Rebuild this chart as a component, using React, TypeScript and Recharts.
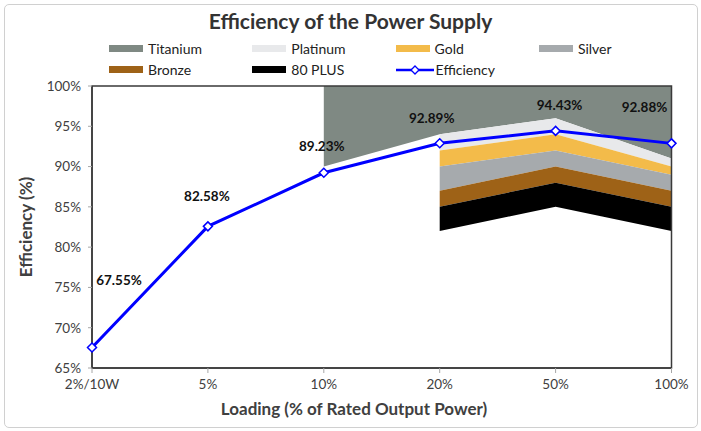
import {
  ComposedChart,
  Area,
  Line,
  XAxis,
  YAxis,
  LabelList,
  ReferenceArea,
} from "recharts";

// loading points on the x axis
const categories = ["2%/10W", "5%", "10%", "20%", "50%", "100%"];

// measured efficiency (%)
const efficiency = [67.55, 82.58, 89.23, 92.89, 94.43, 92.88];

// 80 PLUS minimum levels (%), null = not defined at that load
const titanium = [null, null, 90, 94, 96, 91];
const platinum = [null, null, null, 92, 94, 90];
const gold = [null, null, null, 90, 92, 89];
const silver = [null, null, null, 87, 90, 87];
const bronze = [null, null, null, 85, 88, 85];
const plus80 = [null, null, null, 82, 85, 82];

const yTicks = [65, 70, 75, 80, 85, 90, 95, 100];

const bandNames = ["Titanium", "Platinum", "Gold", "Silver", "Bronze", "80 PLUS"];
const bandColors = ["#7f8983", "#e8e9eb", "#f3bb4a", "#a6aaad", "#9e6217", "#000000"];

const FONT = "Lato, 'Open Sans', sans-serif";
const BLUE = "#0000ff";

const band = (lo: (number | null)[], hi: (number | null)[], i: number) =>
  lo[i] == null || hi[i] == null ? null : [lo[i], hi[i]];

const top = categories.map(() => 100);

const chartData = categories.map((name, i) => ({
  name,
  efficiency: efficiency[i],
  Titanium: band(titanium, top, i),
  Platinum: band(platinum, titanium, i),
  Gold: band(gold, platinum, i),
  Silver: band(silver, gold, i),
  Bronze: band(bronze, silver, i),
  "80 PLUS": band(plus80, bronze, i),
}));

// where each value label sits relative to its point (placed by hand in the original)
const labelOffsets = [
  [27, -67],
  [-1, -30],
  [-2, -27],
  [-8, -25],
  [4, -26],
  [-27, -36],
];

const Diamond = (props: any) => {
  const { cx, cy } = props;
  if (cx == null || cy == null) return null;
  const r = 4.5;
  return (
    <polygon
      points={`${cx},${cy - r} ${cx + r},${cy} ${cx},${cy + r} ${cx - r},${cy}`}
      fill="#fff"
      stroke={BLUE}
      strokeWidth={1.5}
    />
  );
};

const ValueLabel = (props: any) => {
  const { x, y, value, index } = props;
  const [dx, dy] = labelOffsets[index] || [0, -20];
  return (
    <text
      x={x + dx}
      y={y + dy}
      textAnchor="middle"
      dominantBaseline="central"
      fontFamily={FONT}
      fontWeight={700}
      fontSize={13.5}
      fill="#111"
    >
      {value.toFixed(2)}%
    </text>
  );
};

const legendItems = [
  ...bandNames.map((n, i) => ({ name: n, color: bandColors[i], line: false })),
  { name: "Efficiency", color: BLUE, line: true },
];

const ChartLegend = () => (
  <>
    {legendItems.map((item, i) => {
      const col = i % 4;
      const row = Math.floor(i / 4);
      return (
        <div
          key={item.name}
          style={{
            position: "absolute",
            left: 109 + col * 143.3,
            top: 40 + row * 21,
            height: 17,
            display: "flex",
            alignItems: "center",
            fontFamily: FONT,
            fontSize: 14,
            color: "#222",
          }}
        >
          {item.line ? (
            <svg width={38} height={10} style={{ marginRight: 2 }}>
              <line x1={0} y1={5} x2={38} y2={5} stroke={BLUE} strokeWidth={2.5} />
              <polygon points="19,1 23,5 19,9 15,5" fill="#fff" stroke={BLUE} strokeWidth={1.3} />
            </svg>
          ) : (
            <div style={{ width: 34, height: 7, background: item.color, marginRight: 5 }} />
          )}
          <span>{item.name}</span>
        </div>
      );
    })}
  </>
);

const App = () => (
  <div style={{ position: "absolute", left: 0, top: 0, width: 701, height: 431, background: "#fff" }}>
    <div
      style={{
        position: "absolute",
        left: 4,
        top: 4,
        width: 692,
        height: 422,
        border: "1px solid #d0d0d0",
        borderRadius: 5,
      }}
    />
    <div
      style={{
        position: "absolute",
        left: 0,
        width: 701,
        top: 8,
        textAlign: "center",
        fontFamily: FONT,
        fontWeight: 700,
        fontSize: 21,
        color: "#333",
      }}
    >
      Efficiency of the Power Supply
    </div>
    <ChartLegend />
    <div
      style={{
        position: "absolute",
        left: 0,
        width: 708,
        top: 398,
        textAlign: "center",
        fontFamily: FONT,
        fontWeight: 700,
        fontSize: 17,
        color: "#404040",
      }}
    >
      Loading (% of Rated Output Power)
    </div>
    <div
      style={{
        position: "absolute",
        left: 25,
        top: 227,
        transform: "translate(-50%, -50%) rotate(-90deg)",
        whiteSpace: "nowrap",
        fontFamily: FONT,
        fontWeight: 700,
        fontSize: 17,
        color: "#404040",
      }}
    >
      Efficiency (%)
    </div>
    <div style={{ position: "absolute", left: 0, top: 0 }}>
      <ComposedChart
        width={701}
        height={431}
        data={chartData}
        margin={{ top: 86, right: 29.5, bottom: 33, left: 0 }}
      >
        {bandNames.map((n, i) => (
          <Area
            key={n}
            dataKey={n}
            name={n}
            type="linear"
            stroke="none"
            fill={bandColors[i]}
            fillOpacity={1}
            isAnimationActive={false}
            activeDot={false}
          />
        ))}
        <ReferenceArea
          x1={categories[0]}
          x2={categories[categories.length - 1]}
          y1={65}
          y2={100}
          fill="none"
          stroke="#3a3a3a"
          strokeWidth={1.5}
        />
        <XAxis
          dataKey="name"
          scale="point"
          padding={{ left: 0, right: 0 }}
          height={30}
          tickSize={5}
          tickMargin={6}
          axisLine={{ stroke: "#3a3a3a", strokeWidth: 1.5 }}
          tickLine={{ stroke: "#a6a6a6" }}
          tick={{ fontFamily: FONT, fontSize: 13.5, fill: "#404040" }}
          interval={0}
        />
        <YAxis
          type="number"
          domain={[65, 100]}
          ticks={yTicks}
          allowDataOverflow
          width={92}
          tickSize={4}
          tickMargin={7}
          axisLine={{ stroke: "#3a3a3a", strokeWidth: 1.5 }}
          tickLine={{ stroke: "#a6a6a6" }}
          tick={{ fontFamily: FONT, fontSize: 13.5, fill: "#404040" }}
          tickFormatter={(v: number) => `${v}%`}
        />
        <Line
          dataKey="efficiency"
          name="Efficiency"
          type="linear"
          stroke={BLUE}
          strokeWidth={3}
          dot={<Diamond />}
          activeDot={false}
          isAnimationActive={false}
        >
          <LabelList dataKey="efficiency" content={<ValueLabel />} />
        </Line>
      </ComposedChart>
    </div>
  </div>
);

export default App;
